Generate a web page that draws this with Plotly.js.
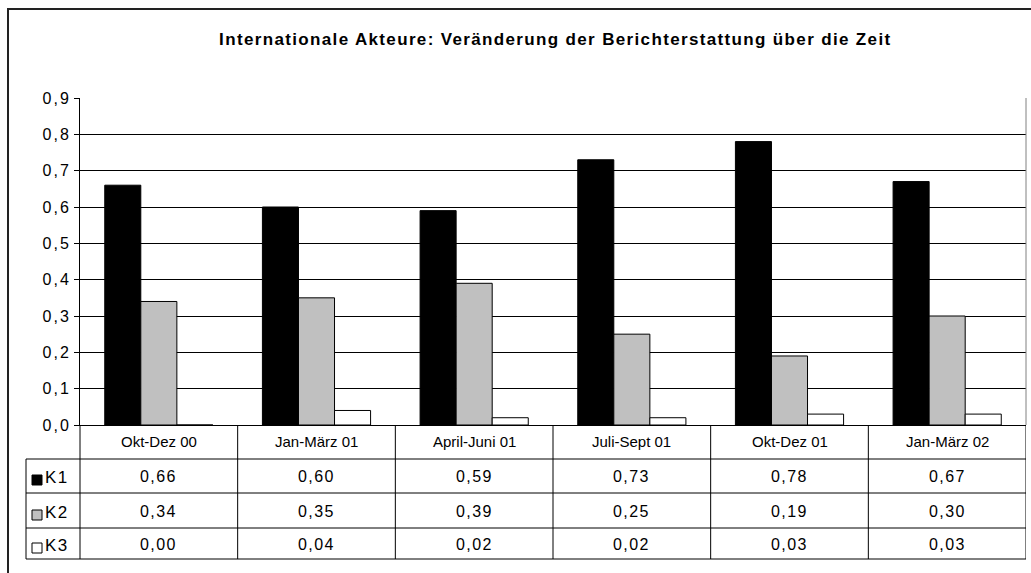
<!DOCTYPE html>
<html>
<head>
<meta charset="utf-8">
<script src="https://cdn.plot.ly/plotly-3.0.1.min.js"></script>
<style>html,body{margin:0;padding:0;background:#fff;}#chart{width:1031px;height:573px;}</style>
</head>
<body>
<div id="chart"></div>
<script>
const categories = ["Okt-Dez 00", "Jan-März 01", "April-Juni 01", "Juli-Sept 01", "Okt-Dez 01", "Jan-März 02"];
const seriesNames = ["K1", "K2", "K3"];
const k1 = [0.66, 0.60, 0.59, 0.73, 0.78, 0.67];
const k2 = [0.34, 0.35, 0.39, 0.25, 0.19, 0.30];
const k3 = [0.00, 0.04, 0.02, 0.02, 0.03, 0.03];
const yTicks = [0, 0.1, 0.2, 0.3, 0.4, 0.5, 0.6, 0.7, 0.8, 0.9];
const yTickLabels = ["0,0", "0,1", "0,2", "0,3", "0,4", "0,5", "0,6", "0,7", "0,8", "0,9"];
const titleText = "Internationale Akteure: Veränderung der Berichterstattung über die Zeit";

const W = 1031, H = 573;
const L = 80, R = 5, T = 98, B = 148;
const PW = W - L - R, PH = H - T - B;
const pxX = px => (px - L) / PW;
const pxY = py => (H - B - py) / PH;
const FONT = "Liberation Sans, Arial, sans-serif";
const spaced = (t, s) => '<span style="letter-spacing:' + s + 'px">' + t + '</span>';

const colors = ["#000000", "#c0c0c0", "#ffffff"];
const series = [k1, k2, k3];

const traces = series.map((vals, i) => ({
  type: "bar",
  name: seriesNames[i],
  x: categories,
  y: vals,
  marker: {color: colors[i], line: {color: "#000", width: 1}},
  hoverinfo: "skip"
}));

const shapes = [];
const annotations = [];

// outer frame
shapes.push({type: "rect", xref: "paper", yref: "paper",
  x0: pxX(8), x1: pxX(1040), y0: pxY(9), y1: pxY(590),
  line: {color: "#222", width: 2}, fillcolor: "rgba(0,0,0,0)", layer: "below"});

// plot right border
shapes.push({type: "line", xref: "paper", yref: "paper", x0: 1, x1: 1, y0: 0, y1: 1,
  line: {color: "#808080", width: 1}});

// table rows
const rowLines = [459, 493, 528, 559];
rowLines.forEach(py => shapes.push({type: "line", xref: "paper", yref: "paper",
  x0: pxX(26), x1: 1, y0: pxY(py), y1: pxY(py), line: {color: "#000", width: 1}}));
// left legend column border
shapes.push({type: "line", xref: "paper", yref: "paper", x0: pxX(26), x1: pxX(26),
  y0: pxY(459), y1: pxY(559), line: {color: "#000", width: 1}});
// axis column border
shapes.push({type: "line", xref: "paper", yref: "paper", x0: 0, x1: 0,
  y0: 0, y1: pxY(559), line: {color: "#000", width: 1}});
// category boundaries
for (let i = 0; i < categories.length; i++) {
  shapes.push({type: "line", xref: "x", yref: "paper", x0: i + 0.5, x1: i + 0.5,
    y0: 0, y1: pxY(559), line: {color: "#000", width: 1}});
}

// header labels
categories.forEach((c, i) => annotations.push({xref: "x", yref: "paper", x: c, y: pxY(441),
  text: c, showarrow: false, xanchor: "center", yanchor: "middle",
  font: {family: FONT, size: 15, color: "#000"}}));

// rows
const rowCenters = [476, 511, 544];
const fmt = v => v.toFixed(2).replace(".", ",");
series.forEach((vals, s) => {
  vals.forEach((v, i) => annotations.push({xref: "x", yref: "paper", x: categories[i], y: pxY(rowCenters[s]),
    text: spaced(fmt(v), 1.4), showarrow: false, xanchor: "center", yanchor: "middle",
    font: {family: FONT, size: 16, color: "#000"}}));
  // legend key
  shapes.push({type: "rect", xref: "paper", yref: "paper",
    x0: pxX(32), x1: pxX(42), y0: pxY(rowCenters[s] - 1), y1: pxY(rowCenters[s] + 9),
    fillcolor: colors[s], line: {color: "#000", width: 1}});
  annotations.push({xref: "paper", yref: "paper", x: pxX(43), y: pxY(rowCenters[s] + 1),
    text: spaced(seriesNames[s], 1.5), showarrow: false, xanchor: "left", yanchor: "middle",
    font: {family: FONT, size: 17, color: "#000"}});
});

const layout = {
  width: W, height: H,
  margin: {l: L, r: R, t: T, b: B, pad: 0},
  paper_bgcolor: "#fff", plot_bgcolor: "#fff",
  separators: ",.",
  showlegend: false,
  barmode: "group",
  bargap: 0.314, bargroupgap: 0,
  title: {text: "<b>" + spaced(titleText, 1.35) + "</b>", x: 518 / W, xanchor: "center",
    y: 1 - 39 / H, yanchor: "middle", xref: "paper", yref: "container",
    font: {family: FONT, size: 17, color: "#000"}},
  xaxis: {type: "category", range: [-0.5, categories.length - 0.5],
    showticklabels: false, ticks: "", showgrid: false, zeroline: false,
    showline: true, linecolor: "#000", linewidth: 1, fixedrange: true},
  yaxis: {range: [0, 0.9], tickvals: yTicks, ticktext: yTickLabels.map(t => spaced(t, 2)),
    ticks: "outside", ticklen: 5, tickcolor: "#000", tickwidth: 1,
    showgrid: true, gridcolor: "#000", gridwidth: 1, zeroline: false,
    showline: true, linecolor: "#000", linewidth: 1,
    tickfont: {family: FONT, size: 16, color: "#000"}, fixedrange: true},
  shapes: shapes,
  annotations: annotations
};

Plotly.newPlot("chart", traces, layout, {displayModeBar: false, staticPlot: true});
</script>
</body>
</html>
